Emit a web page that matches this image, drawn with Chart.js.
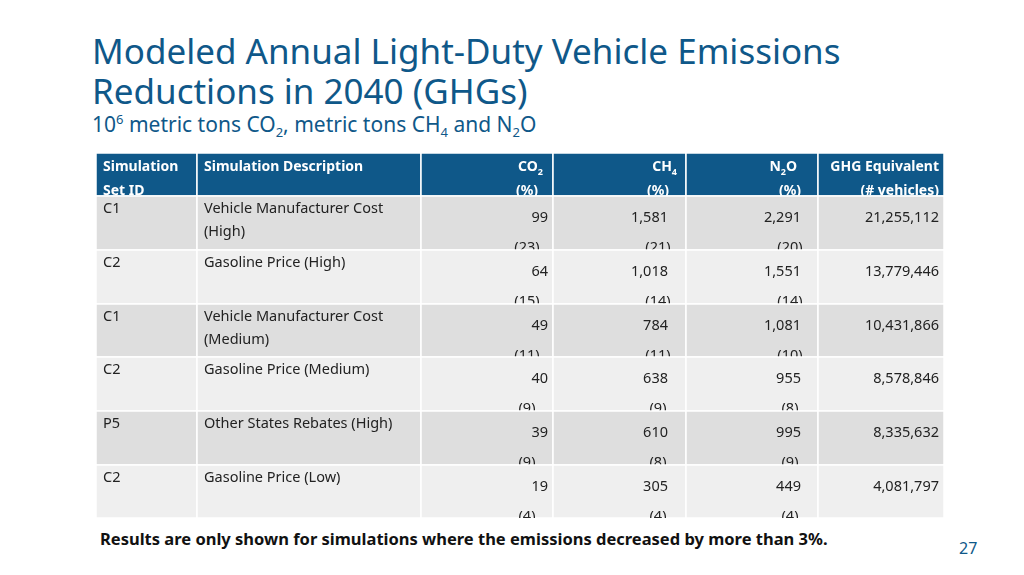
<!DOCTYPE html>
<html><head><meta charset="utf-8">
<script src="https://cdn.jsdelivr.net/npm/chart.js@4"></script>
<style>
body{margin:0;width:1024px;height:575px;background:#fff;font-family:"Noto Sans",sans-serif;position:relative;overflow:hidden}
#t{position:absolute;left:92px;top:31px;font-size:35px;line-height:40px;color:#0f5889}
#s{position:absolute;left:92px;top:110px;font-size:21px;color:#0f5889}
#s sup,#s sub{font-size:13px}
#f{position:absolute;left:100px;top:527px;font-size:16.5px;font-weight:bold;color:#111}
#p{position:absolute;left:959px;top:537px;font-size:16px;color:#0f5889}
#w{position:absolute;left:96px;top:153px;width:848px;height:365px}
</style></head><body>
<div id="t">Modeled Annual Light-Duty Vehicle Emissions<br>Reductions in 2040 (GHGs)</div>
<div id="s">10<sup>6</sup> metric tons CO<sub>2</sub>, metric tons CH<sub>4</sub> and N<sub>2</sub>O</div>
<div id="w"><canvas id="c"></canvas></div>
<div id="f">Results are only shown for simulations where the emissions decreased by more than 3%.</div>
<div id="p">27</div>
<script>
const ids=["C1","C2","C1","C2","P5","C2"];
const descs=[["Vehicle Manufacturer Cost","(High)"],["Gasoline Price (High)"],["Vehicle Manufacturer Cost","(Medium)"],["Gasoline Price (Medium)"],["Other States Rebates (High)"],["Gasoline Price (Low)"]];
const co2=["99","64","49","40","39","19"];
const co2pct=["(23)","(15)","(11)","(9)","(9)","(4)"];
const ch4=["1,581","1,018","784","638","610","305"];
const ch4pct=["(21)","(14)","(11)","(9)","(8)","(4)"];
const n2o=["2,291","1,551","1,081","955","995","449"];
const n2opct=["(20)","(14)","(10)","(8)","(9)","(4)"];
const ghg=["21,255,112","13,779,446","10,431,866","8,578,846","8,335,632","4,081,797"];
const colEdges=[0,101,325,457,590,722,848];
const rowEdges=[0,43,97,151,204,258,312,365];
const F='"Noto Sans",sans-serif';
const valPad=[0,0,5,18,17,5];
const pctOff=[0,0,26,28,28];
const hdrPad=[0,0,10,9,21];
const tablePlugin={id:'tbl',afterDraw(ch){
 const c=ch.ctx,X=ch.scales.x,Y=ch.scales.y;
 const px=v=>X.getPixelForValue(v),py=v=>Y.getPixelForValue(v);
 c.save();
 for(let r=0;r<7;r++){
  const y0=py(rowEdges[r]),y1=py(rowEdges[r+1]);
  for(let k=0;k<6;k++){
   const x0=px(colEdges[k]),x1=px(colEdges[k+1]);
   c.fillStyle=r==0?'#0f5889':(r%2==1?'#dedede':'#efefef');
   c.fillRect(x0,y0,x1-x0,y1-y0);
   c.strokeStyle='#fff';c.lineWidth=1.5;c.strokeRect(x0,y0,x1-x0,y1-y0);
  }
  c.save();c.beginPath();c.rect(px(0),y0,px(848)-px(0),y1-y0);c.clip();
  const L=k=>px(colEdges[k])+7,E=k=>px(colEdges[k+1]);
  if(r==0){
   c.fillStyle='#fff';c.font='bold 14px '+F;c.textBaseline='alphabetic';
   c.textAlign='left';c.fillText('Simulation',L(0),y0+18);c.fillText('Set ID',L(0),y0+42);
   c.fillText('Simulation Description',L(1),y0+18);
   [['CO','2'],['CH','4'],['N','2','O']].forEach((h,i)=>{
     const k=i+2;c.textAlign='right';c.font='bold 14px '+F;
     let x=E(k)-hdrPad[k];
     if(h[2]){c.fillText(h[2],x,y0+18);x-=c.measureText(h[2]).width;}
     c.font='bold 9px '+F;c.fillText(h[1],x,y0+22);x-=c.measureText(h[1]).width;
     c.font='bold 14px '+F;c.fillText(h[0],x,y0+18);
     c.textAlign='center';c.fillText('(%)',E(k)-pctOff[k],y0+42);
   });
   c.textAlign='right';c.fillText('GHG Equivalent',E(5)-5,y0+18);c.fillText('(# vehicles)',E(5)-5,y0+42);
  }else{
   const i=r-1;c.fillStyle='#222';c.font='14.5px '+F;
   c.textAlign='left';c.fillText(ids[i],L(0),y0+17);
   descs[i].forEach((d,j)=>c.fillText(d,L(1),y0+17+j*23));
   [[co2,co2pct],[ch4,ch4pct],[n2o,n2opct]].forEach((a,j)=>{
     const k=j+2;
     c.textAlign='right';c.fillText(a[0][i],E(k)-valPad[k],y0+26);
     c.textAlign='center';c.fillText(a[1][i],E(k)-pctOff[k],y0+56);
   });
   c.textAlign='right';c.fillText(ghg[i],E(5)-valPad[5],y0+26);
  }
  c.restore();
 }
 c.restore();
}};
new Chart(document.getElementById('c'),{type:'scatter',
 data:{datasets:[{data:[],pointRadius:0}]},
 options:{responsive:true,maintainAspectRatio:false,animation:false,
  layout:{padding:0},
  plugins:{legend:{display:false},tooltip:{enabled:false}},
  scales:{x:{type:'linear',min:0,max:848,display:false},y:{type:'linear',min:0,max:365,reverse:true,display:false}}},
 plugins:[tablePlugin]});
</script></body></html>
